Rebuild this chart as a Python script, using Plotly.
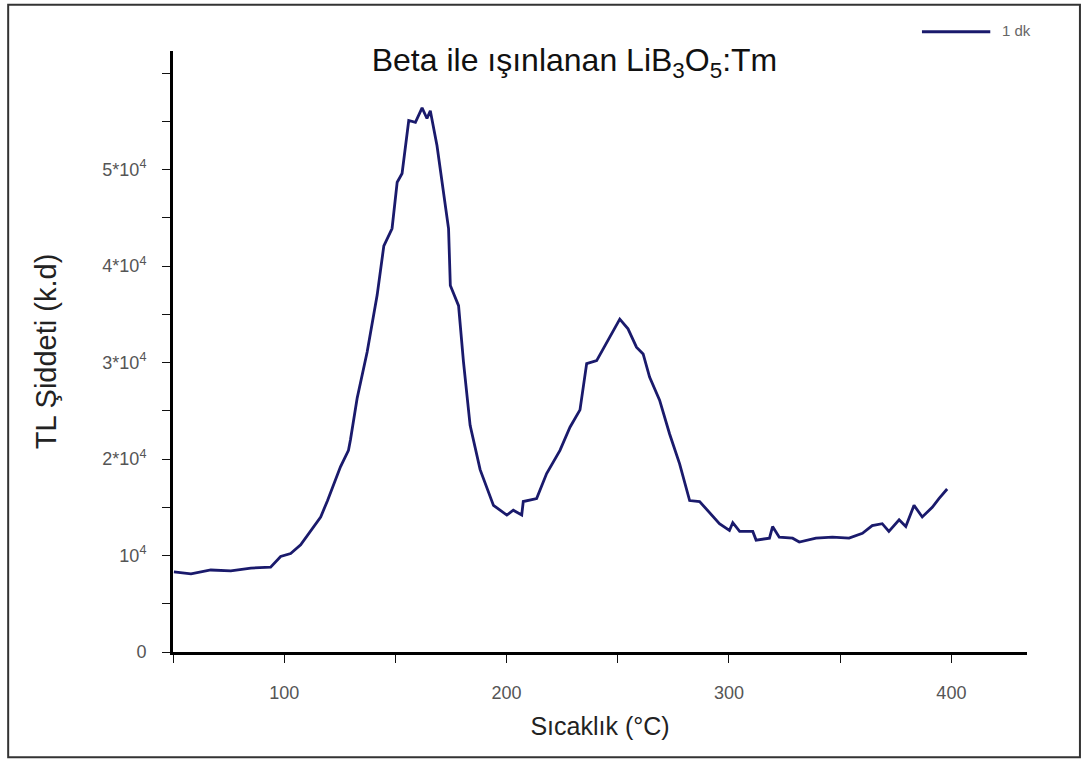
import plotly.graph_objects as go

# Thermoluminescence glow curve, beta-irradiated LiB3O5:Tm (1 min)
temperature = [
    50.4, 58.1, 67.0, 76.0, 85.0, 93.9, 98.4, 102.9, 107.4, 111.9,
    116.4, 119.5, 122.2, 125.3, 128.9, 129.8, 132.8, 137.3, 141.8, 144.8,
    148.5, 150.8, 153.0, 156.0, 159.0, 162.0, 164.2, 165.7, 168.7, 171.7,
    173.9, 174.7, 178.4, 180.6, 183.6, 188.1, 192.6, 194.1, 200.1, 203.0,
    206.8, 207.5, 213.5, 218.0, 224.0, 228.5, 233.0, 236.0, 240.5, 245.0,
    248.0, 250.9, 254.6, 258.4, 261.4, 264.3, 268.8, 273.3, 277.8, 282.3,
    286.8, 291.3, 295.7, 300.2, 301.7, 304.8, 310.7, 312.2, 318.2, 319.6,
    322.6, 328.6, 331.6, 339.1, 346.5, 354.0, 360.0, 364.4, 368.9, 371.9,
    376.5, 379.5, 383.2, 386.9, 391.4, 394.4, 398.1,
]
intensity = [
    8300, 8100, 8500, 8400, 8700, 8800, 9900, 10200, 11100, 12600,
    14000, 15700, 17300, 19200, 20900, 22000, 26300, 31100, 37000, 42100,
    43900, 48700, 49600, 55100, 54900, 56400, 55300, 56100, 52500, 47300,
    43900, 38000, 35900, 30100, 23500, 18900, 16100, 15200, 14200, 14700,
    14200, 15600, 15900, 18500, 20900, 23300, 25100, 29900, 30200, 32000,
    33200, 34500, 33500, 31600, 30900, 28500, 26100, 22600, 19500, 15700,
    15600, 14400, 13300, 12600, 13400, 12500, 12500, 11600, 11800, 13000,
    11900, 11800, 11400, 11800, 11900, 11800, 12300, 13100, 13300, 12500,
    13700, 13000, 15200, 14000, 15000, 15900, 16900,
]

x_tickvals = [100, 200, 300, 400]
x_ticktext = ["100", "200", "300", "400"]
y_tickvals = [0, 10000, 20000, 30000, 40000, 50000]
y_ticktext = ["0", "10<sup>4</sup>", "2*10<sup>4</sup>", "3*10<sup>4</sup>",
              "4*10<sup>4</sup>", "5*10<sup>4</sup>"]

series_name = "1 dk"
line_color = "#1a1a6c"
font_family = "Arial, Liberation Sans, sans-serif"

fig = go.Figure()
fig.add_trace(go.Scatter(
    x=temperature, y=intensity, mode="lines", name=series_name,
    line=dict(color=line_color, width=2.8), showlegend=False,
))

fig.update_layout(
    width=1088, height=765,
    margin=dict(l=173, r=61, t=51, b=113),
    paper_bgcolor="white", plot_bgcolor="white",
    font=dict(family=font_family, color="#222"),
    title=dict(
        text="Beta ile ışınlanan LiB<sub>3</sub>O<sub>5</sub>:Tm",
        x=0.528, xanchor="center", y=0.922, yanchor="middle",
        font=dict(size=32, color="#111"),
    ),
    xaxis=dict(
        range=[50, 434], showgrid=False, zeroline=False,
        showline=True, linecolor="black", linewidth=3,
        tickmode="array", tickvals=x_tickvals, ticktext=x_ticktext,
        ticks="outside", ticklen=8, tickwidth=1, tickcolor="#111",
        minor=dict(dtick=50, tick0=50, ticks="outside", ticklen=8,
                   tickwidth=1, tickcolor="#111", showgrid=False),
        tickfont=dict(size=18, color="#555"),
        ticklabelstandoff=14,
        title=dict(text="Sıcaklık (°C)", font=dict(size=25, color="#222"),
                   standoff=16),
    ),
    yaxis=dict(
        range=[0, 62300], showgrid=False, zeroline=False,
        showline=True, linecolor="black", linewidth=3,
        tickmode="array", tickvals=y_tickvals, ticktext=y_ticktext,
        ticks="outside", ticklen=8, tickwidth=1, tickcolor="#111",
        minor=dict(dtick=5000, tick0=0, ticks="outside", ticklen=8,
                   tickwidth=1, tickcolor="#111", showgrid=False),
        tickfont=dict(size=18, color="#555"),
        ticklabelstandoff=12,
        title=dict(text="TL Şiddeti (k.d)", font=dict(size=29, color="#222"),
                   standoff=38),
    ),
)

# Frame around the whole chart
fig.add_shape(type="rect", xref="paper", yref="paper",
              x0=-0.193, x1=1.062, y0=-0.175, y1=1.077,
              line=dict(color="#333", width=2), fillcolor="rgba(0,0,0,0)")

# Legend sample in the top-right corner
fig.add_shape(type="line", xref="paper", yref="paper",
              x0=0.877, x1=0.957, y0=1.032, y1=1.032,
              line=dict(color=line_color, width=2.8))
fig.add_annotation(text=series_name, xref="paper", yref="paper",
                   x=0.968, y=1.034, xanchor="left", yanchor="middle",
                   showarrow=False, font=dict(size=15, color="#666"))

fig.write_html("out.html")
